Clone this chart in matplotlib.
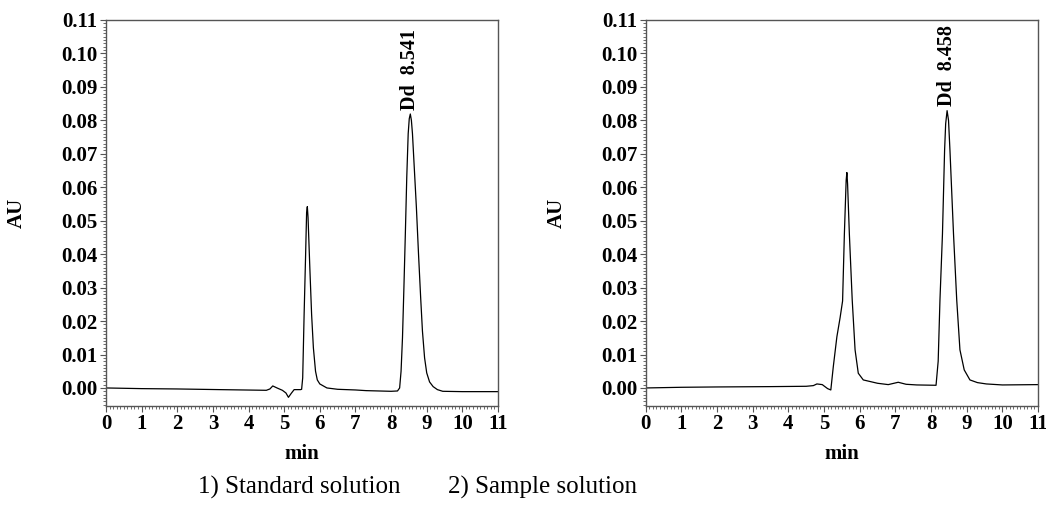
"""
Two HPLC chromatograms side by side: standard solution and sample solution
"""
import matplotlib

matplotlib.use("Agg")
import matplotlib.pyplot as plt
from matplotlib.ticker import MultipleLocator, FormatStrFormatter

# retention time (min) and absorbance (AU)
std_time = [0.0, 1.0, 2.0, 3.2, 4.5, 4.6, 4.68, 4.8, 4.95, 5.05, 5.12, 5.2, 5.28,
            5.46, 5.49, 5.52, 5.56, 5.60, 5.63, 5.65, 5.67, 5.69, 5.72, 5.77,
            5.82, 5.88, 5.93, 6.0, 6.2, 6.5, 7.0, 7.3, 8.0, 8.18, 8.24, 8.28,
            8.32, 8.36, 8.40, 8.44, 8.48, 8.51, 8.54, 8.57, 8.60, 8.65, 8.71,
            8.77, 8.83, 8.88, 8.94, 9.0, 9.08, 9.18, 9.3, 9.45, 10.0, 11.0]
std_au = [0.0, -0.0002, -0.0003, -0.0005, -0.0007, -0.0003, 0.0006, 0.0, -0.0007,
          -0.0015, -0.0028, -0.0016, -0.0005, -0.0005, -0.0004, 0.003, 0.022,
          0.039, 0.0525, 0.0542, 0.051, 0.045, 0.036, 0.022, 0.012, 0.005,
          0.0024, 0.0012, 0.0, -0.0004, -0.0006, -0.0008, -0.0010, -0.0009, 0.0,
          0.005, 0.015, 0.030, 0.046, 0.063, 0.076, 0.0805, 0.0819, 0.080, 0.076,
          0.066, 0.054, 0.040, 0.027, 0.017, 0.009, 0.0045, 0.0018, 0.0004,
          -0.0005, -0.0010, -0.0011, -0.0011]

# sample trace
smp_time = [0.0, 1.0, 2.0, 3.5, 4.5, 4.7, 4.8, 4.95, 5.1, 5.19, 5.26, 5.36, 5.45,
            5.52, 5.57, 5.62, 5.64, 5.66, 5.71, 5.79, 5.87, 5.96, 6.10, 6.5, 6.8,
            7.08, 7.3, 7.6, 8.14, 8.20, 8.25, 8.32, 8.38, 8.41, 8.45, 8.49, 8.53,
            8.63, 8.72, 8.81, 8.93, 9.09, 9.3, 9.55, 10.0, 11.0]
smp_au = [0.0, 0.0002, 0.0003, 0.0004, 0.0005, 0.0007, 0.0012, 0.001, -0.0002,
          -0.0006, 0.0064, 0.0153, 0.021, 0.026, 0.046, 0.062, 0.0644, 0.061,
          0.046, 0.0263, 0.0114, 0.0044, 0.0024, 0.0014, 0.0010, 0.0017, 0.0011,
          0.0009, 0.0008, 0.008, 0.0263, 0.046, 0.0711, 0.079, 0.0829, 0.080,
          0.0711, 0.046, 0.0263, 0.0114, 0.0054, 0.0024, 0.0016, 0.0012, 0.0009,
          0.0010]

peak_labels = ["Dd  8.541", "Dd  8.458"]
peak_times = [8.541, 8.458]
peak_heights = [0.0819, 0.0829]
captions = ["1) Standard solution", "2) Sample solution"]

plt.rcParams["font.family"] = ["Liberation Serif", "DejaVu Serif"]

fig = plt.figure(figsize=(10.46, 5.05), dpi=100)
axes = [
    fig.add_axes([0.1013, 0.196, 0.3748, 0.7644]),
    fig.add_axes([0.6173, 0.196, 0.3751, 0.7644]),
]
traces = [(std_time, std_au), (smp_time, smp_au)]

for i, ax in enumerate(axes):
    t, au = traces[i]
    ax.plot(t, au, color="black", lw=0.9)
    ax.set_xlim(0, 11)
    ax.set_ylim(-0.0054, 0.11)
    ax.xaxis.set_major_locator(MultipleLocator(1))
    ax.xaxis.set_minor_locator(MultipleLocator(0.1))
    ax.yaxis.set_major_locator(MultipleLocator(0.01))
    ax.yaxis.set_minor_locator(MultipleLocator(0.001))
    ax.yaxis.set_major_formatter(FormatStrFormatter("%.2f"))
    ax.tick_params(which="major", direction="out", length=4, width=0.8,
                   color="#555555", labelsize=15, pad=2)
    ax.tick_params(which="minor", direction="out", length=2, width=0.6,
                   color="#555555")
    for lab in ax.get_xticklabels() + ax.get_yticklabels():
        lab.set_fontweight("bold")
    for sp in ax.spines.values():
        sp.set_color("#555555")
        sp.set_linewidth(1.0)
    ax.set_ylabel("AU", fontsize=15, fontweight="bold")
    ax.yaxis.set_label_coords(-0.201, 0.5)
    ax.set_xlabel("min", fontsize=15, fontweight="bold")
    ax.xaxis.set_label_coords(0.5, -0.098)
    ax.annotate(peak_labels[i], xy=(peak_times[i], peak_heights[i]),
                xytext=(0, 3), textcoords="offset points", rotation=90,
                ha="center", va="bottom", fontsize=14.5, fontweight="bold")

fig.text(0.286, 0.034, captions[0], fontsize=18, ha="center", va="center")
fig.text(0.519, 0.034, captions[1], fontsize=18, ha="center", va="center")

fig.savefig("out.png", dpi=100)
